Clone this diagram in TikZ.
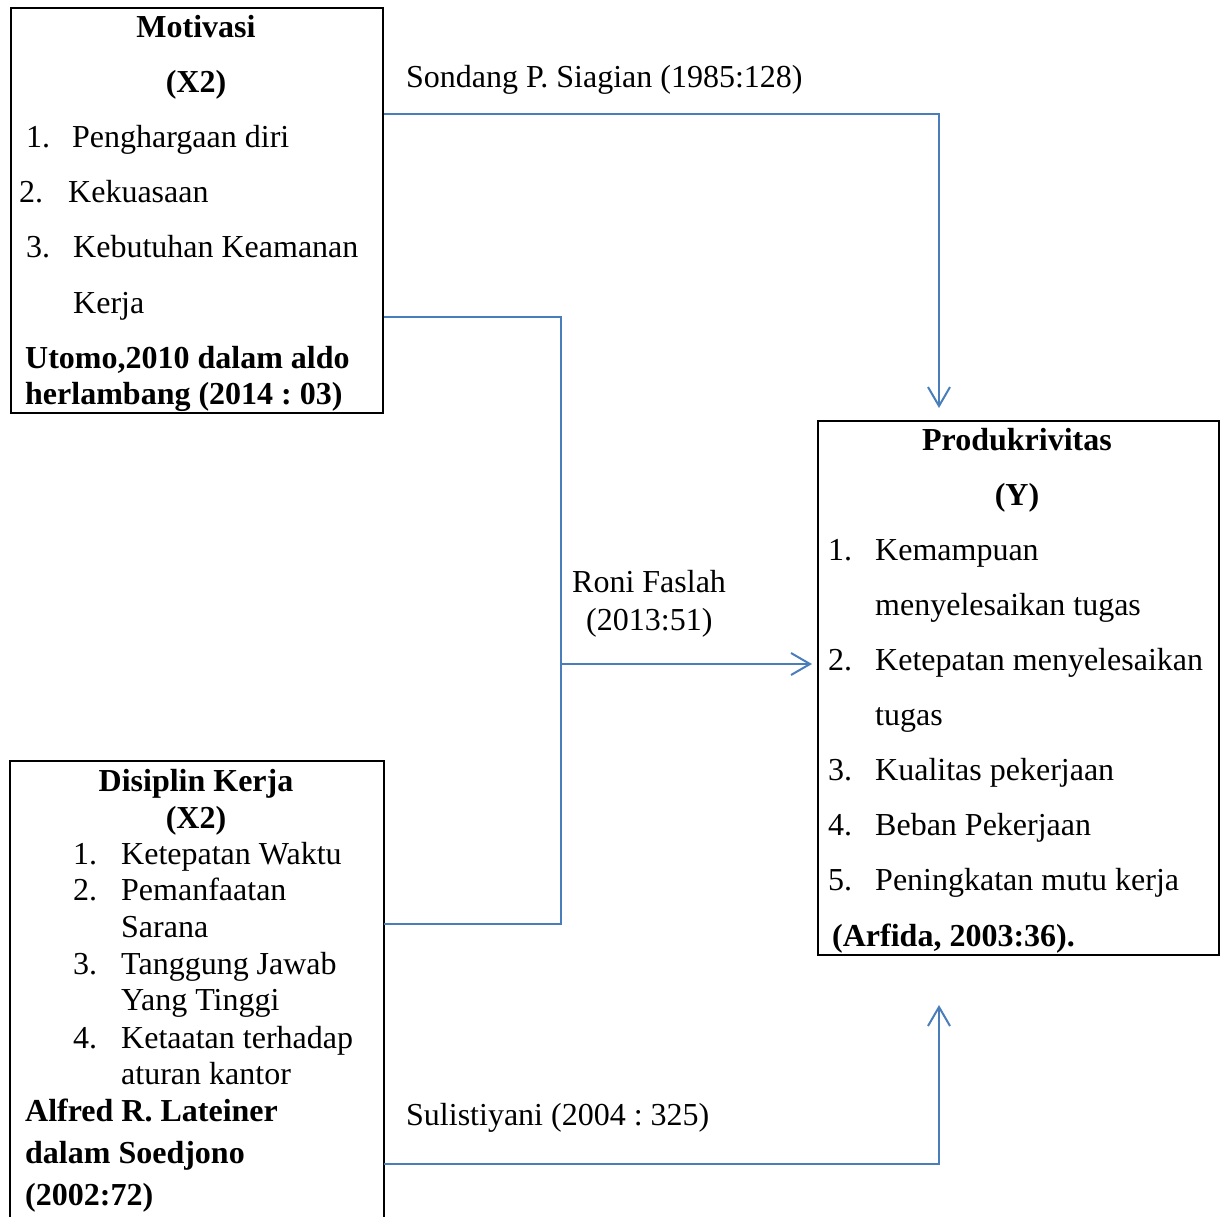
\documentclass[tikz,border=0pt]{standalone}
\usepackage{fontspec}
\setmainfont{Liberation Serif}
\usetikzlibrary{arrows.meta}
\frenchspacing
\definecolor{linkblue}{RGB}{74,126,187}
\tikzset{
  box/.style={draw=black, line width=2pt, inner sep=0pt, anchor=north west},
  txt/.style={anchor=base west, inner sep=0pt, font=\fontsize{32}{37}\selectfont},
  btxt/.style={anchor=base west, inner sep=0pt, font=\fontsize{32}{37}\selectfont\bfseries},
  ttl/.style={anchor=base, inner sep=0pt, font=\fontsize{32}{37}\selectfont\bfseries},
  conn/.style={draw=linkblue, line width=2pt},
  arr/.style={conn, -{Straight Barb[length=19pt,width=22pt,line width=2pt]}},
}
\begin{document}
\begin{tikzpicture}[x=1pt,y=-1pt]
\useasboundingbox (0,0) rectangle (1224,1216);
% boxes
\node[box, minimum width=372pt, minimum height=405pt] (motiv) at (10,7) {};
\node[box, draw=none, minimum width=372pt, minimum height=470pt] (disip) at (10,761) {};
\draw[line width=2pt] (disip.south west) -- (disip.north west) -- (disip.north east) -- (disip.south east);
\node[box, minimum width=401pt, minimum height=534pt] (prod) at (817,420) {};

% Motivasi texts
\node[ttl] (m0) at (196,37) {Motivasi};
\node[ttl] (m1) at (196,92) {(X2)};
\node[txt] (m2n) at (26,147) {1.};
\node[txt] (m2) at (72,147) {Penghargaan diri};
\node[txt] (m3n) at (19,202) {2.};
\node[txt] (m3) at (68,202) {Kekuasaan};
\node[txt] (m4n) at (26,257) {3.};
\node[txt] (m4) at (73,257) {Kebutuhan Keamanan};
\node[txt] (m5) at (73,313) {Kerja};
\node[btxt] (m6) at (25,368) {Utomo,2010 dalam aldo};
\node[btxt] (m7) at (25,404) {herlambang (2014 : 03)};

% Disiplin texts
\node[ttl] (d0) at (196,791) {Disiplin Kerja};
\node[ttl] (d1) at (196,828) {(X2)};
\node[txt] (d2n) at (73,864) {1.};
\node[txt] (d2) at (121,864) {Ketepatan Waktu};
\node[txt] (d3n) at (73,900) {2.};
\node[txt] (d3) at (121,900) {Pemanfaatan};
\node[txt] (d4) at (121,937) {Sarana};
\node[txt] (d5n) at (73,974) {3.};
\node[txt] (d5) at (121,974) {Tanggung Jawab};
\node[txt] (d6) at (121,1010) {Yang Tinggi};
\node[txt] (d7n) at (73,1048) {4.};
\node[txt] (d7) at (121,1048) {Ketaatan terhadap};
\node[txt] (d8) at (121,1084) {aturan kantor};
\node[btxt] (d9) at (25,1121) {Alfred R. Lateiner};
\node[btxt] (d10) at (25,1163) {dalam Soedjono};
\node[btxt] (d11) at (25,1205) {(2002:72)};

% Produktivitas texts
\node[ttl] (p0) at (1017,450) {Produkrivitas};
\node[ttl] (p1) at (1017,505) {(Y)};
\node[txt] (p2n) at (828,560) {1.};
\node[txt] (p2) at (875,560) {Kemampuan};
\node[txt] (p3) at (875,615) {menyelesaikan tugas};
\node[txt] (p4n) at (828,670) {2.};
\node[txt] (p4) at (875,670) {Ketepatan menyelesaikan};
\node[txt] (p5) at (875,725) {tugas};
\node[txt] (p6n) at (828,780) {3.};
\node[txt] (p6) at (875,780) {Kualitas pekerjaan};
\node[txt] (p7n) at (828,835) {4.};
\node[txt] (p7) at (875,835) {Beban Pekerjaan};
\node[txt] (p8n) at (828,890) {5.};
\node[txt] (p8) at (875,890) {Peningkatan mutu kerja};
\node[btxt] (p9) at (832,946) {(Arfida, 2003:36).};

% connector labels
\node[txt] (l1) at (406,87) {Sondang P. Siagian (1985:128)};
\node[txt] (l2) at (572,592) {Roni Faslah};
\node[txt] (l3) at (586,630) {(2013:51)};
\node[txt] (l4) at (406,1125) {Sulistiyani (2004 : 325)};

% connectors
\coordinate (c1) at (939,114);
\draw[arr] (motiv.east |- c1) -- (c1) -- ([yshift=12pt]c1 |- prod.north);

\coordinate (j1) at (561,317);
\coordinate (j2) at (561,924);
\coordinate (j3) at (561,664);
\draw[conn] (motiv.east |- j1) -- (j1) -- (j2) -- (disip.east |- j2);
\draw[arr] (j3) -- ([xshift=-5pt]prod.west |- j3);

\coordinate (c3) at (939,1164);
\draw[arr] (disip.east |- c3) -- (c3) -- ([yshift=-49pt]c3 |- prod.south);
\end{tikzpicture}
\end{document}
